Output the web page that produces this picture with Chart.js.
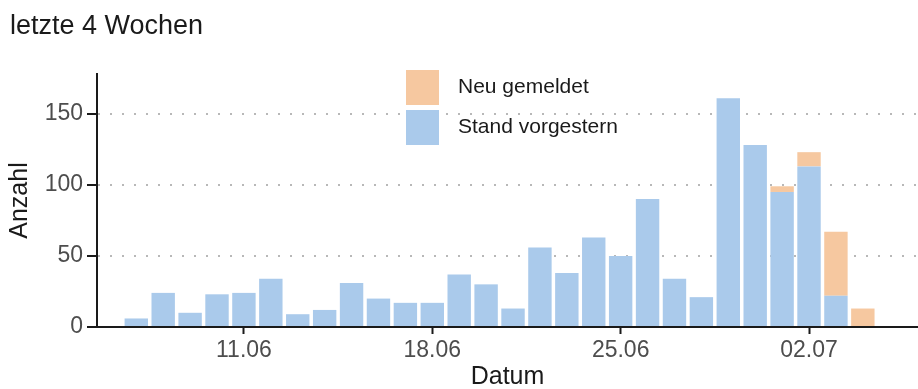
<!DOCTYPE html>
<html>
<head>
<meta charset="utf-8">
<script src="https://cdn.jsdelivr.net/npm/chart.js@4"></script>
<style>
  html, body { margin: 0; padding: 0; background: #fff; }
  #wrap { width: 918px; height: 389px; }
</style>
</head>
<body>
<div id="wrap"><canvas id="faelle"></canvas></div>
<script>
const dates = ['07.06','08.06','09.06','10.06','11.06','12.06','13.06','14.06','15.06','16.06',
               '17.06','18.06','19.06','20.06','21.06','22.06','23.06','24.06','25.06','26.06',
               '27.06','28.06','29.06','30.06','01.07','02.07','03.07','04.07'];
const standVorgestern = [6,24,10,23,24,34,9,12,31,20,17,17,37,30,13,56,38,63,50,90,34,21,161,128,95,113,22,0];
const neuGemeldet     = [0,0,0,0,0,0,0,0,0,0,0,0,0,0,0,0,0,0,0,0,0,0,0,0,4,10,45,13];
const tickDates = ['11.06','18.06','25.06','02.07'];
const yTicks = [0, 50, 100, 150];

const BLUE = '#aacaeb';
const ORANGE = '#f6c8a0';
const FONT = '"Liberation Sans", Arial, sans-serif';

// legend drawn inside the plot, ggplot style
const innerLegend = {
    id: 'innerLegend',
    afterDraw(chart) {
        const ctx = chart.ctx;
        const x = chart.chartArea.left + 309;
        let y = chart.chartArea.top - 4;
        ctx.save();
        ctx.font = '21px ' + FONT;
        ctx.textBaseline = 'middle';
        const items = chart.data.datasets.slice().reverse();
        items.forEach(ds => {
            ctx.fillStyle = ds.backgroundColor;
            ctx.fillRect(x, y, 33, 35);
            ctx.fillStyle = '#1a1a1a';
            ctx.fillText(ds.label, x + 52, y + 17);
            y += 40;
        });
        ctx.restore();
    }
};

new Chart(document.getElementById('faelle').getContext('2d'), {
    type: 'bar',
    data: {
        datasets: [
            {
                label: 'Stand vorgestern',
                data: standVorgestern.map((v, i) => ({x: i, y: v})),
                backgroundColor: BLUE
            },
            {
                label: 'Neu gemeldet',
                data: neuGemeldet.map((v, i) => ({x: i, y: v})),
                backgroundColor: ORANGE
            }
        ]
    },
    options: {
        responsive: true,
        maintainAspectRatio: false,
        animation: false,
        datasets: {
            bar: { categoryPercentage: 1, barPercentage: 0.87, borderWidth: 0 }
        },
        layout: { padding: { left: 10, right: 0, top: 0, bottom: 0 } },
        plugins: {
            legend: { display: false },
            tooltip: { enabled: false },
            title: {
                display: true,
                text: 'letzte 4 Wochen',
                align: 'start',
                color: '#1a1a1a',
                font: { family: FONT, size: 27, weight: 'normal' },
                padding: { top: 10, bottom: 31.6 }
            }
        },
        scales: {
            x: {
                type: 'linear',
                stacked: true,
                min: -1.46,
                max: 29.05,
                offset: false,
                afterBuildTicks: s => { s.ticks = tickDates.map(d => ({ value: dates.indexOf(d) })); },
                afterFit: s => { s.height = 62; },
                ticks: {
                    callback: v => dates[v],
                    color: '#4d4d4d',
                    font: { family: FONT, size: 23 },
                    padding: 3,
                    maxRotation: 0
                },
                grid: {
                    offset: false,
                    drawOnChartArea: false,
                    drawTicks: true,
                    tickLength: 7,
                    tickColor: '#1a1a1a',
                    tickWidth: 2
                },
                border: { display: true, color: '#1a1a1a', width: 2 },
                title: {
                    display: true,
                    text: 'Datum',
                    color: '#1a1a1a',
                    font: { family: FONT, size: 25 },
                    padding: { top: 0, bottom: -3 }
                }
            },
            y: {
                stacked: true,
                min: 0,
                max: 178,
                afterBuildTicks: s => { s.ticks = yTicks.map(v => ({ value: v })); },
                afterFit: s => { s.width = 87; },
                ticks: {
                    color: '#4d4d4d',
                    font: { family: FONT, size: 23 },
                    padding: 4
                },
                grid: {
                    color: '#b8b8b8',
                    lineWidth: 2,
                    drawTicks: true,
                    tickLength: 10,
                    tickColor: '#1a1a1a',
                    tickWidth: 2,
                    tickBorderDash: [1, 0]
                },
                border: { display: true, color: '#1a1a1a', width: 2, dash: [2, 10] },
                title: {
                    display: true,
                    text: 'Anzahl',
                    color: '#1a1a1a',
                    font: { family: FONT, size: 25 },
                    padding: { top: -5, bottom: 0 }
                }
            }
        }
    },
    plugins: [innerLegend]
});
</script>
</body>
</html>
